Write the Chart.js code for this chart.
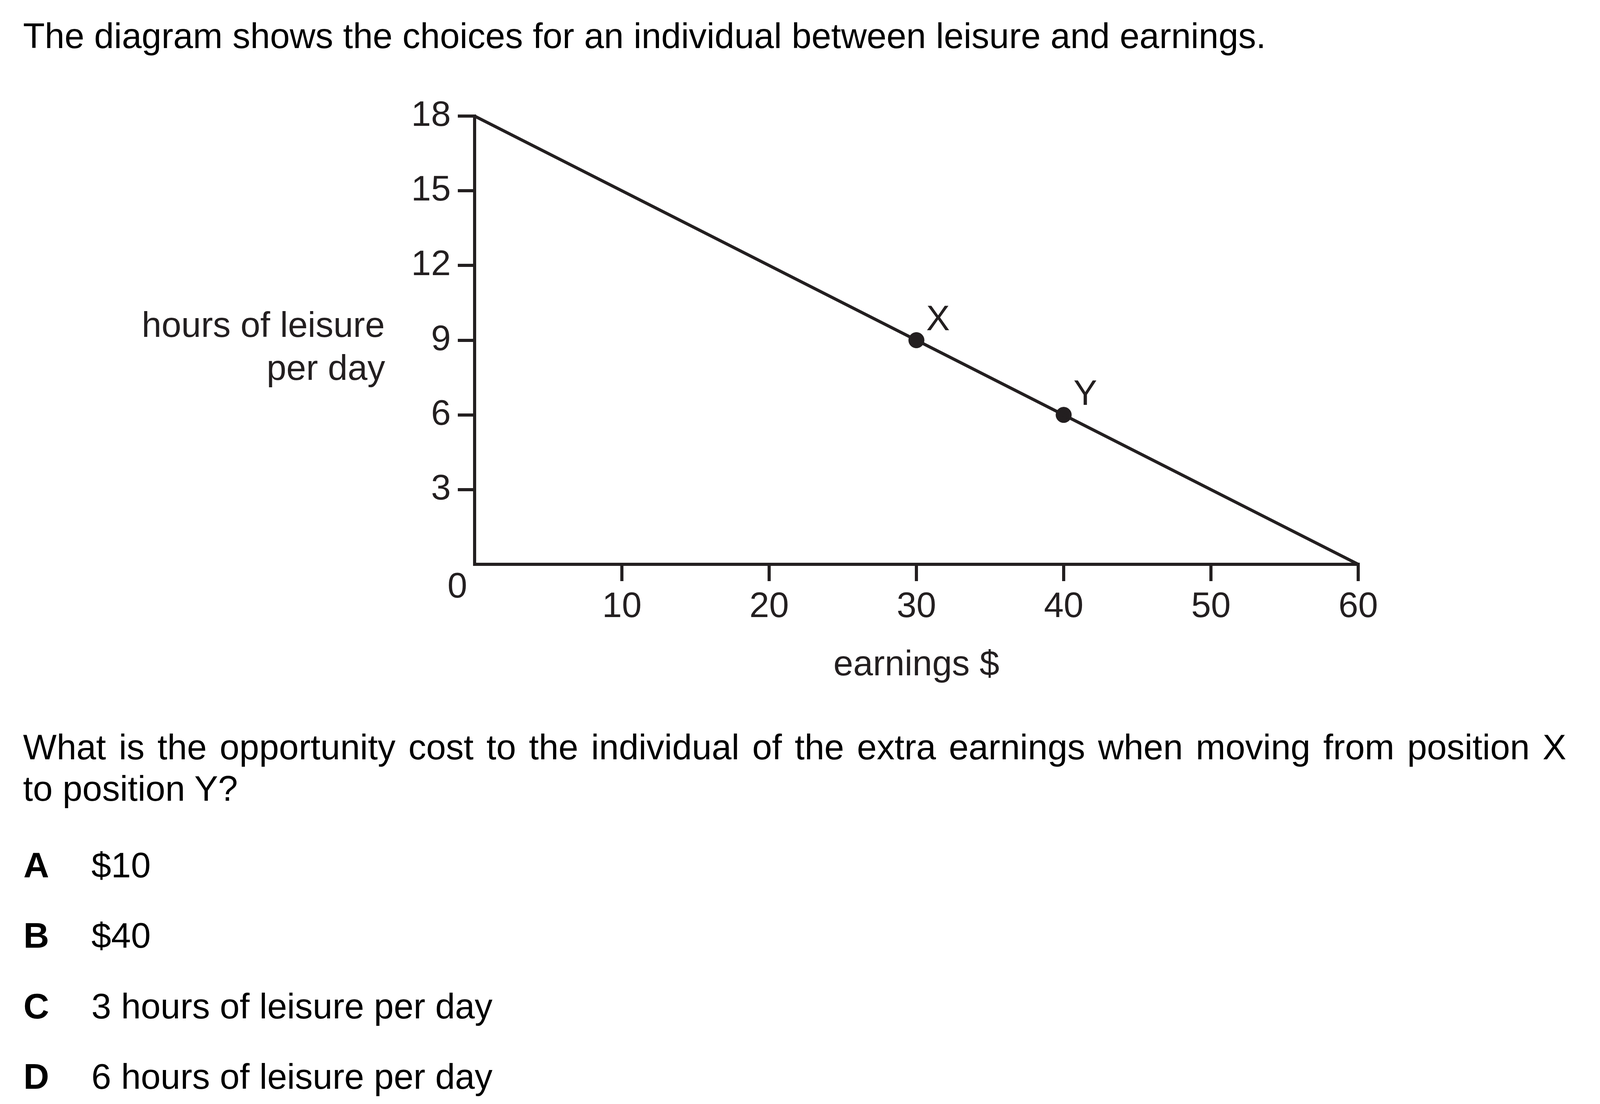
<!DOCTYPE html>
<html>
<head>
<meta charset="utf-8">
<script src="https://cdn.jsdelivr.net/npm/chart.js@4/dist/chart.umd.min.js"></script>
<style>
  html, body { margin: 0; padding: 0; background: #fff; }
  body { width: 4201px; height: 2825px; position: relative; overflow: hidden;
         font-family: "Liberation Sans", Arial, sans-serif; font-size: 91px; line-height: 91px; color: #000; }
  .t { position: absolute; white-space: nowrap; }
  .ink { color: #231f20; }
  .opt { font-weight: bold; }
  #chart { position: absolute; left: 0; top: 0; }
</style>
</head>
<body>
<canvas id="chart" width="4201" height="1900"></canvas>

<div class="t" style="left:59px; top:46px;">The diagram shows the choices for an individual between leisure and earnings.</div>

<div class="t ink" style="right:3216px; top:785px; text-align:right;">hours of leisure</div>
<div class="t ink" style="right:3215px; top:895px; text-align:right;">per day</div>

<div class="t" style="left:59px; top:1866px; word-spacing:7.6px;">What is the opportunity cost to the individual of the extra earnings when moving from position X</div>
<div class="t" style="left:59px; top:1972px;">to position Y?</div>

<div class="t opt" style="left:60px; top:2168px;">A</div><div class="t" style="left:234px; top:2168px;">$10</div>
<div class="t opt" style="left:60px; top:2348px;">B</div><div class="t" style="left:234px; top:2348px;">$40</div>
<div class="t opt" style="left:60px; top:2529px;">C</div><div class="t" style="left:234px; top:2529px;">3 hours of leisure per day</div>
<div class="t opt" style="left:60px; top:2709px;">D</div><div class="t" style="left:234px; top:2709px;">6 hours of leisure per day</div>

<script>
// datos del diagrama
const earnings = [0, 60];
const leisure = [18, 0];
const pointNames = ['X', 'Y'];
const pointEarnings = [30, 40];
const pointLeisure = [9, 6];
const xTicks = [10, 20, 30, 40, 50, 60];
const yTicks = [3, 6, 9, 12, 15, 18];

const ink = '#231f20';
const fontFamily = '"Liberation Sans", Arial, sans-serif';

// etiquetas X, Y y el 0 del origen
const labelPlugin = {
    id: 'diagramLabels',
    afterDatasetsDraw(chart) {
        const { ctx, scales: { x, y } } = chart;
        ctx.save();
        ctx.font = '91px ' + fontFamily;
        ctx.fillStyle = ink;
        ctx.textBaseline = 'alphabetic';

        ctx.textAlign = 'right';
        ctx.fillText('0', x.getPixelForValue(0) - 19, y.getPixelForValue(0) + 85);

        ctx.textAlign = 'left';
        pointNames.forEach((name, i) => {
            const px = x.getPixelForValue(pointEarnings[i]);
            const py = y.getPixelForValue(pointLeisure[i]);
            ctx.fillText(name, px + 25, py - 26);
        });
        ctx.restore();
    }
};

const tickColor = ctx => (ctx.tick && ctx.tick.value === 0) ? 'rgba(0,0,0,0)' : ink;

new Chart(document.getElementById('chart'), {
    type: 'scatter',
    data: {
        datasets: [{
            data: earnings.map((e, i) => ({ x: e, y: leisure[i] })),
            showLine: true,
            borderColor: ink,
            borderWidth: 8,
            pointRadius: 0,
            clip: false
        }, {
            data: pointEarnings.map((e, i) => ({ x: e, y: pointLeisure[i] })),
            backgroundColor: ink,
            borderColor: ink,
            pointRadius: 20,
            clip: false
        }]
    },
    options: {
        responsive: false,
        devicePixelRatio: 1,
        animation: false,
        layout: { padding: { left: 915, right: 724, top: 297, bottom: 56 } },
        plugins: { legend: { display: false }, tooltip: { enabled: false } },
        scales: {
            x: {
                type: 'linear', min: 0, max: 60,
                afterFit: s => { s.height = 400; },
                afterBuildTicks: s => { s.ticks = [0].concat(xTicks).map(v => ({ value: v })); },
                ticks: { padding: 12, color: ink, font: { size: 91, family: fontFamily },
                         callback: v => v === 0 ? '' : v },
                grid: { display: true, drawOnChartArea: false, drawTicks: true, tickLength: 43,
                        tickWidth: 8, lineWidth: 8, tickColor: tickColor, color: tickColor },
                border: { display: true, width: 8, color: ink },
                title: { display: true, text: 'earnings $', color: ink,
                         font: { size: 91, family: fontFamily }, padding: { top: 0, bottom: 86 } }
            },
            y: {
                type: 'linear', min: 0, max: 18,
                afterFit: s => { s.width = 300; },
                afterBuildTicks: s => { s.ticks = [0].concat(yTicks).map(v => ({ value: v })); },
                ticks: { padding: 18, color: ink, font: { size: 91, family: fontFamily },
                         callback: v => v === 0 ? '' : v },
                grid: { display: true, drawOnChartArea: false, drawTicks: true, tickLength: 43,
                        tickWidth: 8, lineWidth: 8, tickColor: tickColor, color: tickColor },
                border: { display: true, width: 8, color: ink }
            }
        }
    },
    plugins: [labelPlugin]
});
</script>
</body>
</html>
